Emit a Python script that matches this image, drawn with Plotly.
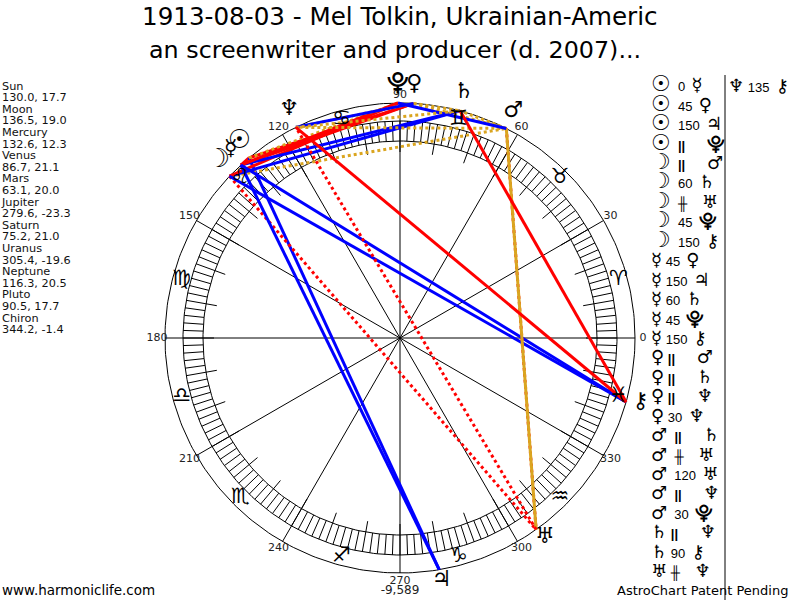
import numpy as np
import plotly.graph_objects as go

title_lines = ["1913-08-03 - Mel Tolkin, Ukrainian-Americ",
               "an screenwriter and producer (d. 2007)..."]
planets = ["Sun", "Moon", "Mercury", "Venus", "Mars", "Jupiter", "Saturn", "Uranus", "Neptune", "Pluto", "Chiron"]
longitude = [130.0, 136.5, 132.6, 86.7, 63.1, 279.6, 75.2, 305.4, 116.3, 90.5, 344.2]
declination = [17.7, 19.0, 12.3, 21.1, 20.0, -23.3, 21.0, -19.6, 20.5, 17.7, -1.4]
planet_glyphs = ["☉", "☽", "☿", "♀", "♂", "♃", "♄", "♅", "♆", "⯓", "⚷"]
sign_glyphs = ["♈", "♉", "♊", "♋", "♌", "♍", "♎", "♏", "♐", "♑", "♒", "♓"]
sign_longitudes = [15, 45, 75, 105, 135, 165, 195, 225, 255, 285, 315, 345]
degree_labels = [0, 30, 60, 90, 120, 150, 180, 210, 240, 270, 300, 330]

asp_a = ["Sun","Sun","Sun","Sun","Moon","Moon","Moon","Moon","Moon","Mercury","Mercury","Mercury","Mercury","Mercury",
         "Venus","Venus","Venus","Venus","Mars","Mars","Mars","Mars","Mars","Saturn","Saturn","Uranus","Neptune"]
asp_b = ["Mercury","Venus","Jupiter","Pluto","Mars","Saturn","Uranus","Pluto","Chiron","Venus","Jupiter","Saturn","Pluto","Chiron",
         "Mars","Saturn","Neptune","Neptune","Saturn","Uranus","Uranus","Neptune","Pluto","Neptune","Chiron","Neptune","Chiron"]
asp_k = ["0","45","150","||","||","60","##","45","150","45","150","60","45","150",
         "||","||","||","30","||","##","120","||","30","||","90","##","135"]
score_label = "-9,589"

CX, CY = 400, 338
R_OUT, R_RING1, R_RING2, R_TICK = 235, 217, 197, 186
LAT = "DejaVu Sans"
ARIAL = "Liberation Sans"
RED, BLUE, GOLD = "#ff0000", "#0000ff", "#daa520"
STYLES = {"0": (RED, "solid"), "45": (RED, "solid"), "90": (RED, "solid"), "135": (RED, "solid"),
          "30": (BLUE, "solid"), "60": (BLUE, "solid"), "150": (BLUE, "solid"),
          "120": (GOLD, "solid"), "||": (GOLD, "dot"), "##": (RED, "dot")}
BIG = {"Sun", "Moon"}
WIDE = {"Sun", "Moon", "Mars"}
NB, TH = "\u00a0", "\u2009"


def px(lon, r):
    a = np.radians(np.asarray(lon, float))
    return CX + r * np.cos(a), CY - r * np.sin(a)


fig = go.Figure()
th = np.arange(0, 361, 1)
for r in (R_OUT, R_RING1, R_RING2):
    x, y = px(th, r)
    fig.add_trace(go.Scatter(x=x, y=y, mode="lines", line=dict(color="black", width=1), hoverinfo="skip"))
tx, ty = [], []
for d in range(0, 360, 2):
    x, y = px([d, d], [R_RING2, R_RING1])
    tx += [x[0], x[1], None]; ty += [y[0], y[1], None]
for d in range(0, 360, 10):
    x, y = px([d, d], [R_TICK, R_RING2])
    tx += [x[0], x[1], None]; ty += [y[0], y[1], None]
fig.add_trace(go.Scatter(x=tx, y=ty, mode="lines", line=dict(color="black", width=1), hoverinfo="skip"))
sx, sy = [], []
for d in range(0, 180, 30):
    x, y = px([d, d + 180], [R_OUT, R_OUT])
    sx += [x[0], x[1], None]; sy += [y[0], y[1], None]
fig.add_trace(go.Scatter(x=sx, y=sy, mode="lines", line=dict(color="black", width=1), hoverinfo="skip"))

for a, b, k in zip(asp_a, asp_b, asp_k):
    la, lb = longitude[planets.index(a)], longitude[planets.index(b)]
    x, y = px([la, lb], [R_OUT, R_OUT])
    col, dash = STYLES[k]
    fig.add_trace(go.Scatter(x=x, y=y, mode="lines", line=dict(color=col, width=3, dash=dash), hoverinfo="skip"))

x, y = px(degree_labels, 243)
fig.add_trace(go.Scatter(x=x, y=y, mode="text", text=[str(d) for d in degree_labels],
                         textfont=dict(family=LAT, size=11, color="#222"), hoverinfo="skip"))
fig.add_trace(go.Scatter(x=[CX], y=[591], mode="text", text=[score_label],
                         textfont=dict(family=LAT, size=12, color="#222"), hoverinfo="skip"))
x, y = px(sign_longitudes, 226)
fig.add_trace(go.Scatter(x=x, y=y, mode="text", text=[s + "\ufe0e" for s in sign_glyphs],
                         textfont=dict(family=LAT, size=21, color="black"), hoverinfo="skip"))


def chart_glyph(n, s):
    return '<span style="font-size:%dpx"><b>%s\ufe0e</b></span>' % (26 if n in BIG else 22, s)


x, y = px(longitude, 250)
fig.add_trace(go.Scatter(x=x, y=y - 4, mode="text", text=[chart_glyph(n, s) for n, s in zip(planets, planet_glyphs)],
                         textfont=dict(family=LAT, size=22, color="black"), hoverinfo="skip"))

rows = []
for n, l, d in zip(planets, longitude, declination):
    rows += [n, f"{l:.1f}, {d:.1f}"]
fig.add_trace(go.Scatter(x=[2] * len(rows), y=[86.7 + 11.6 * i for i in range(len(rows))], mode="text", text=rows,
                         textposition="middle right", textfont=dict(family=LAT, size=11.3, color="#111"), hoverinfo="skip"))


def table_glyph(n):
    return '<span style="font-family:DejaVu Sans;font-size:%dpx"><b>%s\ufe0e</b></span>' % (
        22 if n in BIG else 18, planet_glyphs[planets.index(n)])


def asp_text(a, b, k):
    pre = NB + NB if a in WIDE else NB
    if k == "||":
        mid = pre + "<b>||</b>" + NB * 6
    elif k == "##":
        mid = pre + "<b>╫</b>" + NB * 4
    else:
        mid = pre + k + NB + TH
    return table_glyph(a) + mid + table_glyph(b)


table = [asp_text(a, b, k) for a, b, k in zip(asp_a, asp_b, asp_k)]
n_main = 26
fig.add_trace(go.Scatter(x=[651] * n_main, y=[88 + 19.44 * i for i in range(n_main)], mode="text", text=table[:n_main],
                         textposition="middle right", textfont=dict(family=ARIAL, size=13, color="black"), hoverinfo="skip"))
fig.add_trace(go.Scatter(x=[728], y=[89], mode="text", text=table[n_main:],
                         textposition="middle right", textfont=dict(family=ARIAL, size=13, color="black"), hoverinfo="skip"))
fig.add_trace(go.Scatter(x=[725, 725], y=[75, 600], mode="lines", line=dict(color="black", width=1), hoverinfo="skip"))

anns = []
for t, cx, y, s in zip(title_lines, (400, 395), (16, 50), (24.6, 23.8)):
    anns.append(dict(x=cx, y=y, text=t, showarrow=False, xanchor="center", yanchor="middle",
                     font=dict(family=LAT, size=s, color="black"), xref="x", yref="y"))
anns.append(dict(x=0, y=590, text="www.harmoniclife.com", showarrow=False, xanchor="left", yanchor="middle",
                 font=dict(family=LAT, size=13.5, color="black"), xref="x", yref="y"))
anns.append(dict(x=790, y=590, text="AstroChart Patent Pending", showarrow=False, xanchor="right", yanchor="middle",
                 font=dict(family=LAT, size=13, color="black"), xref="x", yref="y"))

fig.update_layout(width=800, height=600, margin=dict(l=0, r=0, t=0, b=0), showlegend=False,
                  paper_bgcolor="white", plot_bgcolor="white", annotations=anns,
                  xaxis=dict(range=[0, 800], visible=False, fixedrange=True),
                  yaxis=dict(range=[600, 0], visible=False, fixedrange=True))
fig.update_traces(cliponaxis=False)
fig.write_html("out.html", config=dict(displayModeBar=False),
               post_script="document.body.style.margin='0';document.body.style.overflow='hidden';")
